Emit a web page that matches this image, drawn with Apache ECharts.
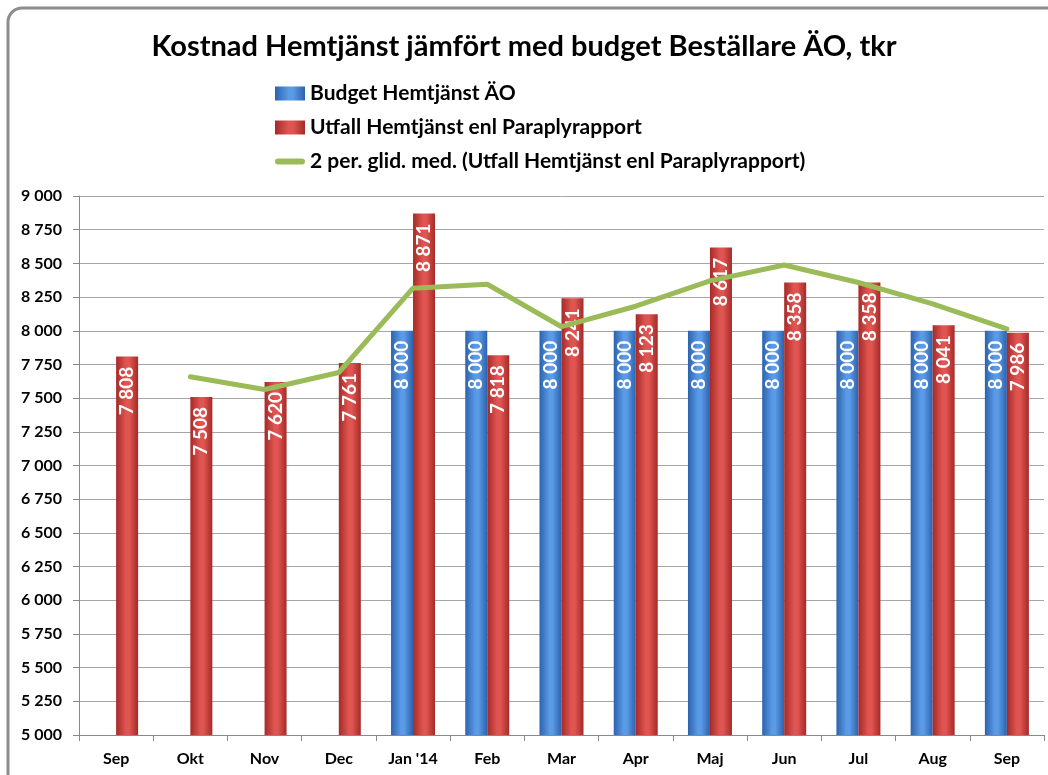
<!DOCTYPE html>
<html>
<head>
<meta charset="utf-8">
<script src="https://cdn.jsdelivr.net/npm/echarts@6/dist/echarts.min.js"></script>
<style>
html,body{margin:0;padding:0;background:#fff;}
#chart{width:1048px;height:775px;}
</style>
</head>
<body>
<div id="chart"></div>
<script>
const categories = ['Sep','Okt','Nov','Dec',"Jan '14",'Feb','Mar','Apr','Maj','Jun','Jul','Aug','Sep'];
const budget = [null,null,null,null,8000,8000,8000,8000,8000,8000,8000,8000,8000];
const utfall = [7808,7508,7620,7761,8871,7818,8241,8123,8617,8358,8358,8041,7986];
const glidMed = [null,7658,7564,7690,8316,8345,8030,8182,8370,8488,8358,8200,8014];
const seriesNames = ['Budget Hemtjänst ÄO','Utfall Hemtjänst enl Paraplyrapport','2 per. glid. med. (Utfall Hemtjänst enl Paraplyrapport)'];
const titleText = 'Kostnad Hemtjänst jämfört med budget Beställare ÄO, tkr';

const FONT = 'Lato, "Open Sans", sans-serif';
const fmt = v => String(v).replace(/\B(?=(\d{3})+(?!\d))/g, ' ');

function grad(edge, mid) {
  return new echarts.graphic.LinearGradient(0,0,1,0,[
    {offset:0,color:edge},{offset:0.45,color:mid},{offset:0.6,color:mid},{offset:1,color:edge}
  ]);
}

const barLabel = {
  show:true, position:'insideTop', rotate:90, align:'right', verticalAlign:'middle',
  distance:10, color:'#fff', fontFamily:FONT, fontWeight:'bold', fontSize:19,
  formatter: p => fmt(p.value)
};

const chart = echarts.init(document.getElementById('chart'), null, {renderer:'canvas'});
chart.setOption({
  animation:false,
  backgroundColor:'#fff',
  graphic:[{
    type:'rect', z:-10, silent:true,
    shape:{x:8,y:8,width:1080,height:820,r:14},
    style:{fill:'#fff',stroke:'#8c8c8c',lineWidth:3}
  }],
  title:{
    text:titleText, left:'center', top:27,
    textStyle:{fontFamily:FONT,fontWeight:'bold',fontSize:29,color:'#000'}
  },
  legend:{
    orient:'vertical', left:270, top:78, itemGap:13, itemWidth:30, itemHeight:14,
    symbolKeepAspect:true,
    textStyle:{fontFamily:FONT,fontWeight:'bold',fontSize:21,color:'#000'},
    data:[
      {name:seriesNames[0],icon:'rect'},
      {name:seriesNames[1],icon:'rect'},
      {name:seriesNames[2],icon:'path://M3,0 L27,0 A3,3 0 0 1 27,6 L3,6 A3,3 0 0 1 3,0 Z'}
    ]
  },
  grid:{left:79,right:4,top:196,bottom:40,containLabel:false},
  xAxis:{
    type:'category', data:categories, boundaryGap:true,
    axisLine:{lineStyle:{color:'#888',width:1}},
    axisTick:{show:true,alignWithLabel:false,length:6,lineStyle:{color:'#888'}},
    axisLabel:{fontFamily:FONT,fontWeight:'bold',fontSize:16,color:'#000',margin:16,interval:0}
  },
  yAxis:{
    type:'value', min:5000, max:9000, interval:250,
    axisLine:{show:true,lineStyle:{color:'#888'}},
    axisTick:{show:true,length:6,lineStyle:{color:'#888'}},
    splitLine:{lineStyle:{color:'#a6a6a6',width:1}},
    axisLabel:{fontFamily:FONT,fontWeight:'bold',fontSize:16,color:'#000',margin:17,formatter:fmt}
  },
  series:[
    {
      name:seriesNames[0], type:'bar', data:budget, barWidth:22, barGap:'0%',
      itemStyle:{color:grad('#2c62ad','#5a9ae6'),borderWidth:0},
      label:barLabel
    },
    {
      name:seriesNames[1], type:'bar', data:utfall, barWidth:22, barGap:'0%',
      itemStyle:{color:grad('#a52a27','#e05551'),borderWidth:0},
      label:barLabel
    },
    {
      name:seriesNames[2], type:'line', data:glidMed, symbol:'none', connectNulls:false,
      itemStyle:{color:'#9bbb59'},
      lineStyle:{color:'#9bbb59',width:5,cap:'round'}, z:5
    }
  ]
});
</script>
</body>
</html>
